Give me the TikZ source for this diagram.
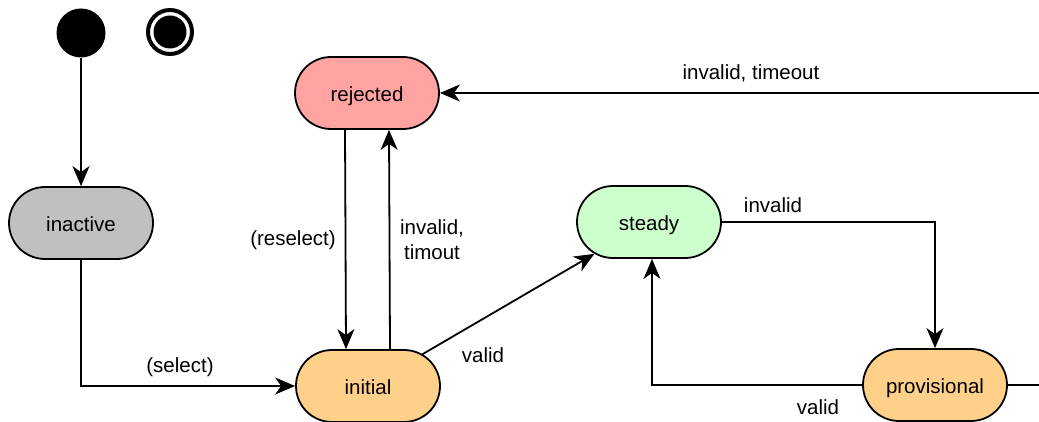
\documentclass[tikz,border=0pt]{standalone}
\usepackage{fontspec}
\setmainfont{Liberation Sans}
\usetikzlibrary{arrows.meta,shapes.misc}

\definecolor{inactivefill}{HTML}{C0C0C0}
\definecolor{rejectedfill}{HTML}{FFA3A3}
\definecolor{steadyfill}{HTML}{CCFFCC}
\definecolor{pendingfill}{HTML}{FFD08A}

\tikzset{
  state/.style={rounded rectangle, draw=black, line width=1.8pt,
    minimum width=144pt, minimum height=72pt, inner sep=0pt,
    text height=21pt, text depth=4pt,
    font=\fontsize{20.5}{25}\selectfont},
  lbl/.style={inner sep=0pt, align=center, font=\fontsize{20.5}{25}\selectfont},
  conn/.style={line width=1.8pt, draw=black,
    -{Stealth[length=20pt, width=17pt, inset=6pt]}},
  plain/.style={line width=1.8pt, draw=black}
}

\begin{document}
\begin{tikzpicture}[x=1pt, y=-1pt]
  \useasboundingbox (0,0) rectangle (1039,422);
  \clip (0,0) rectangle (1039,422);

  % initial and final pseudo-states
  \node[circle, fill=black, minimum size=49pt, inner sep=0pt] (start) at (81,33) {};
  \node[circle, draw=black, line width=4pt, minimum size=44pt, inner sep=0pt] (final) at (170,32) {};
  \node[circle, fill=black, minimum size=33pt, inner sep=0pt] (finaldot) at (170,32) {};

  % states
  \node[state, fill=inactivefill] (inactive) at (81,223) {inactive};
  \node[state, fill=rejectedfill] (rejected) at (367,93) {rejected};
  \node[state, fill=steadyfill] (steady) at (649,222) {steady};
  \node[state, fill=pendingfill] (initial) at (368,386) {initial};
  \node[state, fill=pendingfill] (provisional) at (935,385) {provisional};

  % loop from provisional back to rejected runs past the right edge
  \coordinate (outR) at (1070,385);
  \coordinate (outRup) at (1070,93);

  % transitions
  \draw[conn] (start) -- (inactive);
  \draw[conn] (inactive.south) |- (initial.west);
  \draw[conn] ([xshift=-22pt]rejected.south) -- ([xshift=-22pt]initial.north);
  \draw[conn] ([xshift=22pt]initial.north) -- ([xshift=22pt]rejected.south);
  \draw[conn] (initial) -- (steady);
  \draw[conn] (steady.east) -| (provisional.north);
  \draw[conn] (provisional.west) -| ([xshift=3pt]steady.south);
  \draw[plain] (provisional.east) -- (outR) -- (outRup);
  \draw[conn] (outRup) -- (rejected.east);

  % transition labels
  \node[lbl] (lselect) at (180,367) {(select)};
  \node[lbl] (lreselect) at (293,240) {(reselect)};
  \node[lbl] (linvalidup) at (432,239.5) {invalid,\\timout};
  \node[lbl] (lvalidup) at (483,355) {valid};
  \node[lbl] (linvalid) at (773,205) {invalid};
  \node[lbl] (lvalidback) at (818,407) {valid};
  \node[lbl] (ltimeout) at (751,73) {invalid, timeout};
\end{tikzpicture}
\end{document}
